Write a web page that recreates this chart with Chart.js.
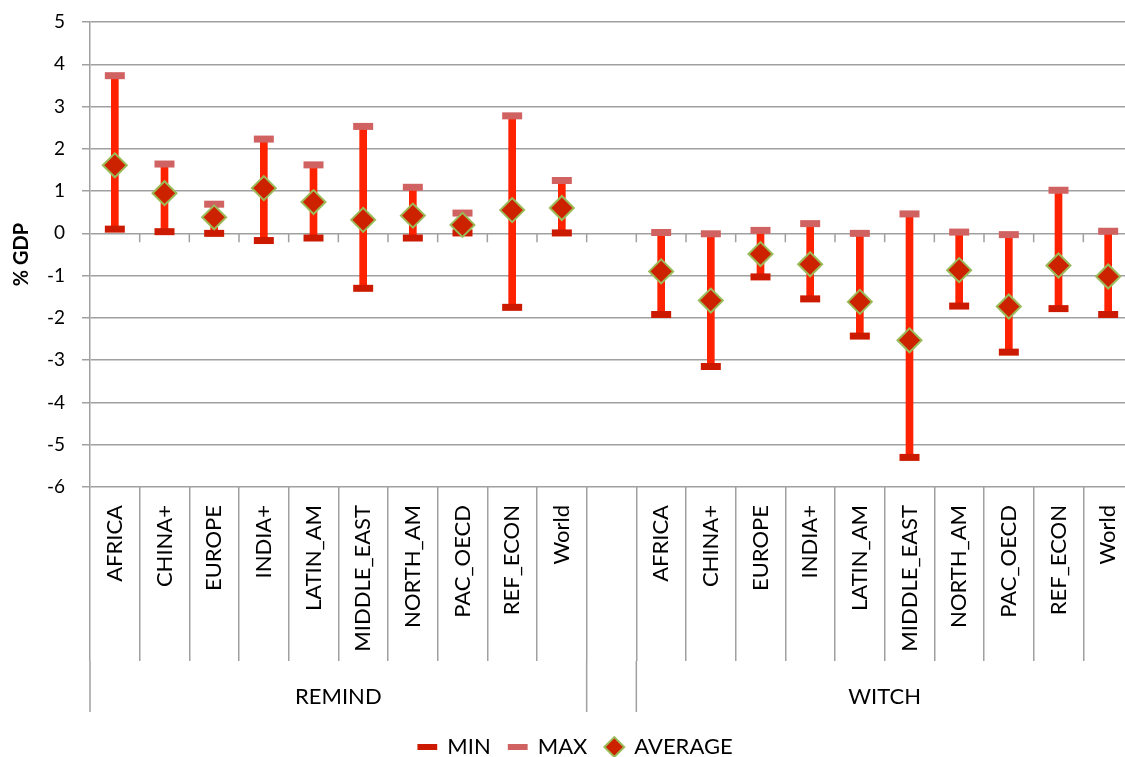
<!DOCTYPE html>
<html>
<head>
<meta charset="utf-8">
<script src="https://cdn.jsdelivr.net/npm/chart.js@4/dist/chart.umd.min.js"></script>
<style>
  html, body { margin: 0; padding: 0; background: #fff; overflow: hidden; }
  #chart { display: block; }
</style>
</head>
<body>
<canvas id="chart" width="1150" height="757"></canvas>
<script>
const regions = ["AFRICA", "CHINA+", "EUROPE", "INDIA+", "LATIN_AM", "MIDDLE_EAST", "NORTH_AM", "PAC_OECD", "REF_ECON", "World"];
const groups = ["REMIND", "WITCH"];
const yTicks = [-6, -5, -4, -3, -2, -1, 0, 1, 2, 3, 4, 5];

const remindMin = [0.10, 0.04, 0.00, -0.17, -0.11, -1.30, -0.11, 0.01, -1.75, 0.01];
const remindMax = [3.73, 1.64, 0.69, 2.23, 1.62, 2.53, 1.09, 0.48, 2.78, 1.25];
const remindAvg = [1.61, 0.95, 0.38, 1.07, 0.74, 0.32, 0.42, 0.20, 0.55, 0.60];

const witchMin = [-1.92, -3.15, -1.03, -1.55, -2.43, -5.30, -1.72, -2.81, -1.78, -1.92];
const witchMax = [0.02, -0.01, 0.07, 0.23, 0.00, 0.46, 0.03, -0.03, 1.02, 0.05];
const witchAvg = [-0.90, -1.59, -0.49, -0.73, -1.62, -2.53, -0.87, -1.73, -0.76, -1.02];

// one empty column between the two model groups
const labels = regions.concat([""], regions);
const minValues = remindMin.concat([null], witchMin);
const maxValues = remindMax.concat([null], witchMax);
const avgValues = remindAvg.concat([null], witchAvg);
const ranges = minValues.map((v, i) => (v === null ? null : [v, maxValues[i]]));

const gridColor = "#A0A0A0";
const rangeColor = "#FF2200";
const minColor = "#CC1A00";
const maxColor = "#D06262";
const avgFill = "#CC2200";
const avgBorder = "#9BBB59";

const catDepth = 174;   // category separators below the plot
const groupDepth = 225; // group row separators

const axisDecor = {
  id: "axisDecor",
  beforeDatasetsDraw(chart) {
    const { ctx, scales: { x, y } } = chart;
    const y0 = y.getPixelForValue(0);
    const step = x.width / labels.length;
    ctx.save();
    ctx.strokeStyle = gridColor;
    ctx.lineWidth = 1.5;
    ctx.beginPath();
    for (let i = 1; i <= labels.length; i++) {
      ctx.moveTo(x.left + i * step, y0);
      ctx.lineTo(x.left + i * step, y0 + 9);
    }
    ctx.stroke();
    ctx.restore();
  },
  afterDraw(chart) {
    const { ctx, chartArea, scales: { x } } = chart;
    const step = x.width / labels.length;
    const top = chartArea.bottom + catDepth;
    const bottom = chartArea.bottom + groupDepth;
    ctx.save();
    ctx.strokeStyle = gridColor;
    ctx.lineWidth = 1.5;
    ctx.beginPath();
    [0, 10, 11, 21].forEach((i) => {
      ctx.moveTo(x.left + i * step, top);
      ctx.lineTo(x.left + i * step, bottom);
    });
    ctx.stroke();
    ctx.fillStyle = "#000";
    ctx.font = "22px Lato";
    ctx.textAlign = "center";
    ctx.textBaseline = "middle";
    ctx.fillText(groups[0], (x.getPixelForValue(0) + x.getPixelForValue(9)) / 2, chartArea.bottom + 210);
    ctx.fillText(groups[1], (x.getPixelForValue(11) + x.getPixelForValue(20)) / 2, chartArea.bottom + 210);
    ctx.restore();
  },
};

new Chart(document.getElementById("chart"), {
  type: "bar",
  data: {
    labels: labels,
    datasets: [
      {
        type: "line",
        label: "AVERAGE",
        data: avgValues,
        showLine: false,
        pointStyle: "rectRot",
        pointRadius: 12,
        pointHoverRadius: 12,
        pointBackgroundColor: avgFill,
        pointBorderColor: avgBorder,
        pointBorderWidth: 2,
        order: 1,
      },
      {
        type: "line",
        label: "MAX",
        data: maxValues,
        showLine: false,
        pointStyle: "line",
        pointRadius: 10,
        pointBorderColor: maxColor,
        pointBorderWidth: 7,
        order: 2,
      },
      {
        type: "line",
        label: "MIN",
        data: minValues,
        showLine: false,
        pointStyle: "line",
        pointRadius: 10,
        pointBorderColor: minColor,
        pointBorderWidth: 7,
        order: 3,
      },
      {
        label: "range",
        data: ranges,
        backgroundColor: rangeColor,
        barThickness: 7,
        order: 4,
      },
    ],
  },
  options: {
    responsive: false,
    animation: false,
    devicePixelRatio: 1,
    layout: { padding: { top: 22, right: 17, left: 18, bottom: -11 } },
    plugins: {
      tooltip: { enabled: false },
      legend: {
        position: "bottom",
        labels: {
          usePointStyle: true,
          boxHeight: 14,
          boxWidth: 18,
          padding: 18,
          color: "#000",
          font: { family: "Lato", size: 22 },
          generateLabels: () => [
            { text: "MIN", pointStyle: "line", strokeStyle: minColor, fillStyle: minColor, lineWidth: 6, fontColor: "#000" },
            { text: "MAX", pointStyle: "line", strokeStyle: maxColor, fillStyle: maxColor, lineWidth: 6, fontColor: "#000" },
            { text: "AVERAGE", pointStyle: "rectRot", strokeStyle: avgBorder, fillStyle: avgFill, lineWidth: 2, fontColor: "#000" },
          ],
        },
      },
    },
    scales: {
      x: {
        offset: true,
        grid: {
          offset: true,
          drawOnChartArea: false,
          drawTicks: true,
          tickLength: catDepth,
          color: gridColor,
          lineWidth: 1.5,
        },
        border: { display: false },
        ticks: {
          autoSkip: false,
          minRotation: 90,
          maxRotation: 90,
          padding: -(catDepth - 18),
          color: "#000",
          font: { family: "Lato", size: 22 },
        },
        afterFit: (scale) => { scale.height = 231; },
      },
      y: {
        min: -6,
        max: 5,
        afterBuildTicks: (scale) => { scale.ticks = yTicks.map((v) => ({ value: v })); },
        grid: { color: gridColor, lineWidth: 1.5, tickLength: 8 },
        border: { color: gridColor, width: 1.5 },
        ticks: {
          padding: 17,
          color: "#000",
          font: { family: "Lato", size: 19 },
        },
        title: {
          display: true,
          text: "% GDP",
          color: "#000",
          font: { family: "Lato", size: 20, weight: "bold" },
          padding: { top: -8, bottom: 0 },
        },
        afterFit: (scale) => {
          scale.width = 72;
          scale.paddingTop = 0;
          scale.paddingBottom = 0;
        },
      },
    },
  },
  plugins: [axisDecor],
});
</script>
</body>
</html>
